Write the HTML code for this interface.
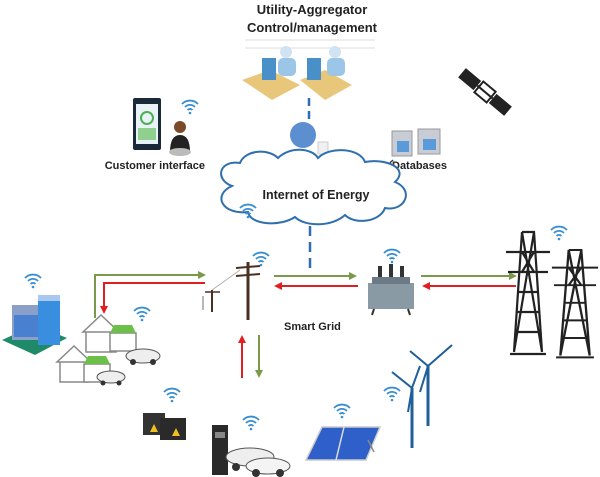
<!DOCTYPE html>
<html><head><meta charset="utf-8"><style>
html,body{margin:0;padding:0;background:#fff;}
svg{display:block;font-family:"Liberation Sans",Arial,sans-serif;}
</style></head><body>
<svg width="600" height="477" viewBox="0 0 600 477">
<defs>
<g id="wifi"><path d="M-8,-2 A11,11 0 0 1 8,-2" fill="none" stroke="#3a8fd0" stroke-width="1.8"/><path d="M-5,1 A7,7 0 0 1 5,1" fill="none" stroke="#3a8fd0" stroke-width="1.8"/><path d="M-2.5,4 A3.5,3.5 0 0 1 2.5,4" fill="none" stroke="#3a8fd0" stroke-width="1.8"/><circle cx="0" cy="7" r="1.3" fill="#3a8fd0"/></g>
<marker id="ag" markerWidth="8" markerHeight="8" refX="6" refY="4" orient="auto" markerUnits="userSpaceOnUse"><path d="M0,0 L8,4 L0,8 z" fill="#7a9a4a"/></marker>
<marker id="ar" markerWidth="8" markerHeight="8" refX="6" refY="4" orient="auto" markerUnits="userSpaceOnUse"><path d="M0,0 L8,4 L0,8 z" fill="#e02020"/></marker>
<g id="tower"><path d="M-6,0 L6,0 L14,120 M6,0 L-14,120 M-6,0 L14,120 M6,0 L-14,120 M-6,0 L-14,120 M-22,20 L22,20 M-20,40 L20,40 M-10,60 L10,60 M-12,80 L12,80 M-13,100 L13,100 M-6,20 L6,40 M6,20 L-6,40 M-18,122 L18,122" stroke="#222" stroke-width="2.2" fill="none"/></g>
</defs>

<text x="312" y="14" font-size="13" font-weight="bold" text-anchor="middle" fill="#222">Utility-Aggregator</text>
<text x="312" y="32" font-size="13" font-weight="bold" text-anchor="middle" fill="#222">Control/management</text>
<g stroke="#ddd" stroke-width="1"><line x1="245" y1="40" x2="375" y2="40"/><line x1="245" y1="48" x2="375" y2="48"/></g>
<g>
<polygon points="242,80 270,70 300,85 272,100" fill="#e8c67a"/>
<polygon points="300,80 325,70 352,85 325,100" fill="#e8c67a"/>
<rect x="262" y="58" width="14" height="22" fill="#4a90c8"/>
<rect x="307" y="58" width="14" height="22" fill="#4a90c8"/>
<circle cx="286" cy="52" r="6" fill="#cfe3f3"/><rect x="278" y="58" width="18" height="18" rx="5" fill="#9cc6e8"/>
<circle cx="335" cy="52" r="6" fill="#cfe3f3"/><rect x="327" y="58" width="18" height="18" rx="5" fill="#9cc6e8"/>
</g>
<line x1="309" y1="98" x2="309" y2="122" stroke="#2f6fae" stroke-width="2.5" stroke-dasharray="8,5"/>
<circle cx="303" cy="135" r="13" fill="#5c8fd0"/>
<rect x="318" y="142" width="10" height="12" fill="#f0f0f0" stroke="#ccc"/>

<rect x="133" y="98" width="28" height="52" rx="2" fill="#1a2a3a"/>
<rect x="136" y="104" width="22" height="40" fill="#e9f2f7"/>
<circle cx="147" cy="118" r="6" fill="none" stroke="#4caf50" stroke-width="2"/>
<rect x="138" y="128" width="18" height="12" fill="#8fd08f"/>
<use href="#wifi" x="190" y="106"/>
<circle cx="180" cy="127" r="6" fill="#7a4a2a"/>
<path d="M170,152 Q170,135 180,135 Q190,135 190,152 z" fill="#222"/>
<ellipse cx="180" cy="152" rx="11" ry="4" fill="#bbb"/>
<text x="205" y="169" font-size="11" font-weight="bold" text-anchor="end" fill="#222">Customer interface</text>

<rect x="392" y="131" width="20" height="25" fill="#c8ccd4" stroke="#999"/>
<rect x="397" y="141" width="12" height="11" fill="#5a9ad8"/>
<rect x="418" y="129" width="22" height="25" fill="#c8ccd4" stroke="#999"/>
<rect x="423" y="139" width="13" height="11" fill="#5a9ad8"/>
<line x1="380" y1="172" x2="393" y2="160" stroke="#333" stroke-width="1.2"/>
<text x="392" y="169" font-size="11" font-weight="bold" fill="#222">Databases</text>

<g transform="translate(485,92) rotate(40)">
<rect x="-30" y="-6" width="20" height="12" fill="#222"/><rect x="10" y="-6" width="20" height="12" fill="#222"/>
<rect x="-8" y="-7" width="16" height="14" fill="#fff" stroke="#222" stroke-width="2"/>
<line x1="-10" y1="0" x2="10" y2="0" stroke="#222" stroke-width="2"/>
</g>

<path d="M232,186 C215,180 218,160 240,163 C245,150 268,148 278,158 C290,146 312,148 318,158 C330,146 360,148 365,162 C385,158 410,168 395,182 C415,190 405,212 385,208 C380,222 355,225 345,215 C332,227 305,227 295,217 C280,227 250,225 248,212 C222,215 212,195 232,186 z" fill="#fff" stroke="#2f6fae" stroke-width="2"/>
<text x="316" y="199" font-size="12.5" font-weight="bold" text-anchor="middle" fill="#222">Internet of Energy</text>
<use href="#wifi" x="248" y="210"/>
<line x1="310" y1="226" x2="310" y2="272" stroke="#2f6fae" stroke-width="2.5" stroke-dasharray="10,6"/>

<line x1="248" y1="262" x2="248" y2="320" stroke="#4a3020" stroke-width="3"/>
<line x1="236" y1="268" x2="260" y2="266" stroke="#4a3020" stroke-width="2"/>
<line x1="236" y1="276" x2="260" y2="274" stroke="#4a3020" stroke-width="2"/>
<line x1="212" y1="290" x2="212" y2="312" stroke="#4a3020" stroke-width="2"/>
<line x1="205" y1="292" x2="220" y2="292" stroke="#4a3020" stroke-width="1.5"/>
<line x1="203" y1="296" x2="203" y2="310" stroke="#888" stroke-width="1.2"/>
<line x1="212" y1="290" x2="240" y2="270" stroke="#aaa" stroke-width="0.8"/>
<use href="#wifi" x="261" y="258"/>
<text x="284" y="330" font-size="11" font-weight="bold" fill="#222">Smart Grid</text>

<polyline points="95,318 95,275 204,275" fill="none" stroke="#7a9a4a" stroke-width="2" marker-end="url(#ag)"/>
<polyline points="205,283 104,283 104,312" fill="none" stroke="#e02020" stroke-width="2" marker-end="url(#ar)"/>
<line x1="274" y1="276" x2="355" y2="276" stroke="#7a9a4a" stroke-width="2" marker-end="url(#ag)"/>
<line x1="358" y1="286" x2="276" y2="286" stroke="#e02020" stroke-width="2" marker-end="url(#ar)"/>
<line x1="421" y1="276" x2="515" y2="276" stroke="#7a9a4a" stroke-width="2" marker-end="url(#ag)"/>
<line x1="516" y1="286" x2="424" y2="286" stroke="#e02020" stroke-width="2" marker-end="url(#ar)"/>
<line x1="242" y1="378" x2="242" y2="337" stroke="#e02020" stroke-width="2" marker-end="url(#ar)"/>
<line x1="259" y1="335" x2="259" y2="376" stroke="#7a9a4a" stroke-width="2" marker-end="url(#ag)"/>

<rect x="368" y="283" width="46" height="26" fill="#8a9aa4"/>
<rect x="372" y="277" width="38" height="7" fill="#6b7a84"/>
<g fill="#333"><rect x="378" y="266" width="4" height="11"/><rect x="389" y="264" width="4" height="13"/><rect x="400" y="266" width="4" height="11"/></g>
<line x1="374" y1="309" x2="372" y2="315" stroke="#333" stroke-width="2"/><line x1="408" y1="309" x2="410" y2="315" stroke="#333" stroke-width="2"/>
<use href="#wifi" x="392" y="255"/>

<use href="#tower" x="528" y="232"/>
<g transform="translate(575,250) scale(1.05,0.88)"><use href="#tower"/></g>
<use href="#wifi" x="559" y="232"/>

<polygon points="2,340 35,325 67,338 35,355" fill="#1e8a6a"/>
<rect x="12" y="305" width="28" height="35" fill="#8aa0c8"/>
<rect x="14" y="315" width="24" height="22" fill="#4a80d0"/>
<rect x="38" y="295" width="22" height="50" fill="#3a8ee0"/>
<rect x="38" y="295" width="22" height="6" fill="#a8c8f0"/>
<use href="#wifi" x="33" y="280"/>

<g fill="#fff" stroke="#888" stroke-width="1.5">
<rect x="86" y="330" width="30" height="22"/>
<polygon points="83,332 101,315 119,332"/>
<rect x="110" y="333" width="26" height="18"/>
<rect x="60" y="360" width="28" height="22"/>
<polygon points="57,362 74,346 91,362"/>
<rect x="84" y="364" width="26" height="18"/>
</g>
<polygon points="110,333 136,333 132,325 114,325" fill="#6cc04a"/>
<polygon points="84,364 110,364 106,356 88,356" fill="#6cc04a"/>
<ellipse cx="143" cy="356" rx="17" ry="7" fill="#eee" stroke="#555"/>
<circle cx="133" cy="362" r="3" fill="#333"/><circle cx="153" cy="362" r="3" fill="#333"/>
<ellipse cx="111" cy="377" rx="14" ry="6" fill="#eee" stroke="#555"/>
<circle cx="103" cy="383" r="2.5" fill="#333"/><circle cx="119" cy="383" r="2.5" fill="#333"/>
<use href="#wifi" x="142" y="313"/>

<rect x="143" y="413" width="22" height="22" fill="#333"/>
<rect x="160" y="418" width="26" height="22" fill="#2a2a2a"/>
<polygon points="172,436 176,428 180,436" fill="#f0c020"/>
<polygon points="150,432 154,424 158,432" fill="#f0c020"/>
<use href="#wifi" x="172" y="394"/>

<rect x="212" y="425" width="16" height="50" fill="#2a2a2a"/>
<rect x="215" y="432" width="10" height="6" fill="#888"/>
<ellipse cx="250" cy="457" rx="24" ry="9" fill="#eee" stroke="#555"/>
<ellipse cx="268" cy="466" rx="22" ry="8" fill="#f4f4f4" stroke="#555"/>
<circle cx="236" cy="467" r="4" fill="#333"/><circle cx="256" cy="473" r="4" fill="#333"/><circle cx="280" cy="473" r="4" fill="#333"/>
<use href="#wifi" x="251" y="422"/>

<polygon points="322,427 380,427 366,460 306,460" fill="#2f5fc8" stroke="#ccc" stroke-width="1.5"/>
<line x1="344" y1="427" x2="336" y2="460" stroke="#ddd" stroke-width="1.5"/>
<line x1="368" y1="440" x2="374" y2="452" stroke="#888" stroke-width="1.5"/>
<use href="#wifi" x="342" y="410"/>

<g stroke="#1f5f9a" fill="none">
<line x1="412" y1="388" x2="412" y2="448" stroke-width="3"/>
<line x1="428" y1="366" x2="428" y2="426" stroke-width="3"/>
<line x1="412" y1="388" x2="392" y2="372" stroke-width="2"/>
<line x1="412" y1="388" x2="420" y2="366" stroke-width="2"/>
<line x1="412" y1="388" x2="408" y2="412" stroke-width="2"/>
<line x1="428" y1="366" x2="452" y2="345" stroke-width="2"/>
<line x1="428" y1="366" x2="410" y2="351" stroke-width="2"/>
<line x1="428" y1="366" x2="420" y2="392" stroke-width="2"/>
</g>
<use href="#wifi" x="392" y="393"/>
</svg>
</body></html>
